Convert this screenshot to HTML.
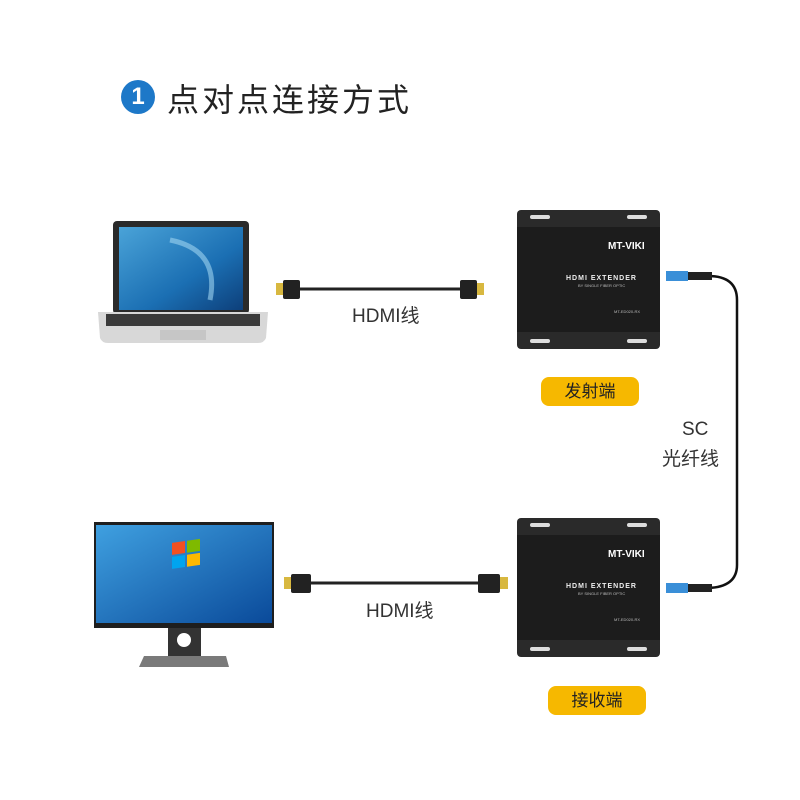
<!DOCTYPE html>
<html><head><meta charset="utf-8"><style>
body{margin:0;width:800px;height:800px;background:#fff;position:relative;overflow:hidden;font-family:"Liberation Sans","Noto Sans CJK SC",sans-serif}
.a{position:absolute}
.lbl{position:absolute;color:#333;font-size:19px}
.pill{position:absolute;background:#f6b800;border-radius:8px;color:#222;font-size:17px;text-align:center;line-height:29px;width:98px;height:29px}
</style></head><body>
<div class="a" style="left:121px;top:80px;width:34px;height:34px;border-radius:50%;background:#1d78c8;color:#fff;font-size:24px;font-weight:bold;text-align:center;line-height:34px">1</div>
<div class="a" style="left:167px;top:75px;font-size:32px;color:#222;letter-spacing:3px">点对点连接方式</div>

<svg class="a" style="left:0;top:0" width="800" height="800">
<defs>
<linearGradient id="scr" x1="0" y1="0" x2="1" y2="1"><stop offset="0" stop-color="#4aa3d8"/><stop offset=".6" stop-color="#1b6fb3"/><stop offset="1" stop-color="#0d3f7a"/></linearGradient>
<linearGradient id="w7" x1="0" y1="0" x2="1" y2="1"><stop offset="0" stop-color="#3fa0e0"/><stop offset="1" stop-color="#0a4a9a"/></linearGradient>
</defs>
<!-- laptop -->
<rect x="113" y="221" width="136" height="93" rx="4" fill="#2a2a2a"/>
<rect x="119" y="227" width="124" height="83" fill="url(#scr)"/>
<path d="M170 240 Q220 250 210 300" stroke="#9fd4f0" stroke-width="5" fill="none" opacity=".6"/>
<path d="M98 312 L268 312 L266 338 Q264 343 258 343 L108 343 Q102 343 100 338Z" fill="#d8d8d8"/>
<rect x="106" y="314" width="154" height="12" fill="#3a3a3a"/>
<rect x="160" y="330" width="46" height="10" fill="#c6c6c6"/>
<!-- monitor -->
<rect x="94" y="522" width="180" height="106" fill="#1e1e1e"/>
<rect x="96" y="525" width="176" height="98" fill="url(#w7)"/>
<rect x="172" y="567" width="13" height="12" fill="#f25022" transform="skewY(-8)"/>
<rect x="187" y="567" width="13" height="12" fill="#7fba00" transform="skewY(-8)"/>
<rect x="172" y="581" width="13" height="12" fill="#00a4ef" transform="skewY(-8)"/>
<rect x="187" y="581" width="13" height="12" fill="#ffb900" transform="skewY(-8)"/>
<rect x="168" y="628" width="33" height="30" fill="#333"/>
<circle cx="184" cy="640" r="7" fill="#fff"/>
<path d="M144 656 L226 656 L229 667 L139 667Z" fill="#7a7a7a"/>
<!-- hdmi cables -->
<line x1="296" y1="289" x2="465" y2="289" stroke="#222" stroke-width="3"/>
<rect x="276" y="283" width="8" height="12" fill="#d8b840"/><rect x="283" y="280" width="17" height="19" rx="2" fill="#222"/>
<rect x="476" y="283" width="8" height="12" fill="#d8b840"/><rect x="460" y="280" width="17" height="19" rx="2" fill="#222"/>
<line x1="300" y1="583" x2="480" y2="583" stroke="#222" stroke-width="3"/>
<rect x="284" y="577" width="8" height="12" fill="#d8b840"/><rect x="291" y="574" width="20" height="19" rx="2" fill="#222"/>
<rect x="500" y="577" width="8" height="12" fill="#d8b840"/><rect x="478" y="574" width="22" height="19" rx="2" fill="#222"/>
<!-- fiber -->
<path d="M708 276 Q737 276 737 300 L737 565 Q737 587 708 588" stroke="#111" stroke-width="2.5" fill="none"/>
<rect x="666" y="271" width="22" height="10" fill="#3a8fd8"/><rect x="688" y="272" width="24" height="8" fill="#222"/>
<rect x="666" y="583" width="22" height="10" fill="#3a8fd8"/><rect x="688" y="584" width="24" height="8" fill="#222"/>
<!-- devices -->
<g>
<rect x="517" y="210" width="143" height="139" rx="4" fill="#2a2a2a"/>
<rect x="517" y="227" width="143" height="105" fill="#1c1c1c"/>
<rect x="530" y="215" width="20" height="4" rx="2" fill="#ddd"/><rect x="627" y="215" width="20" height="4" rx="2" fill="#ddd"/>
<rect x="530" y="339" width="20" height="4" rx="2" fill="#ddd"/><rect x="627" y="339" width="20" height="4" rx="2" fill="#ddd"/>
<text x="608" y="249" fill="#fff" font-size="10" font-weight="bold" font-family="Liberation Sans">MT-VIKI</text>
<text x="566" y="280" fill="#eee" font-size="7" font-weight="bold" font-family="Liberation Sans" letter-spacing="1">HDMI EXTENDER</text>
<text x="578" y="287" fill="#bbb" font-size="4" font-family="Liberation Sans">BY SINGLE FIBER OPTIC</text>
<text x="614" y="313" fill="#bbb" font-size="4" font-family="Liberation Sans">MT-ED020-RX</text>
</g>
<g transform="translate(0,308)">
<rect x="517" y="210" width="143" height="139" rx="4" fill="#2a2a2a"/>
<rect x="517" y="227" width="143" height="105" fill="#1c1c1c"/>
<rect x="530" y="215" width="20" height="4" rx="2" fill="#ddd"/><rect x="627" y="215" width="20" height="4" rx="2" fill="#ddd"/>
<rect x="530" y="339" width="20" height="4" rx="2" fill="#ddd"/><rect x="627" y="339" width="20" height="4" rx="2" fill="#ddd"/>
<text x="608" y="249" fill="#fff" font-size="10" font-weight="bold" font-family="Liberation Sans">MT-VIKI</text>
<text x="566" y="280" fill="#eee" font-size="7" font-weight="bold" font-family="Liberation Sans" letter-spacing="1">HDMI EXTENDER</text>
<text x="578" y="287" fill="#bbb" font-size="4" font-family="Liberation Sans">BY SINGLE FIBER OPTIC</text>
<text x="614" y="313" fill="#bbb" font-size="4" font-family="Liberation Sans">MT-ED020-RX</text>
</g>
</svg>

<div class="lbl" style="left:352px;top:301px">HDMI线</div>
<div class="lbl" style="left:366px;top:596px">HDMI线</div>
<div class="lbl" style="left:682px;top:419px">SC</div>
<div class="lbl" style="left:662px;top:444px">光纤线</div>
<div class="pill" style="left:541px;top:377px">发射端</div>
<div class="pill" style="left:548px;top:686px">接收端</div>
</body></html>
